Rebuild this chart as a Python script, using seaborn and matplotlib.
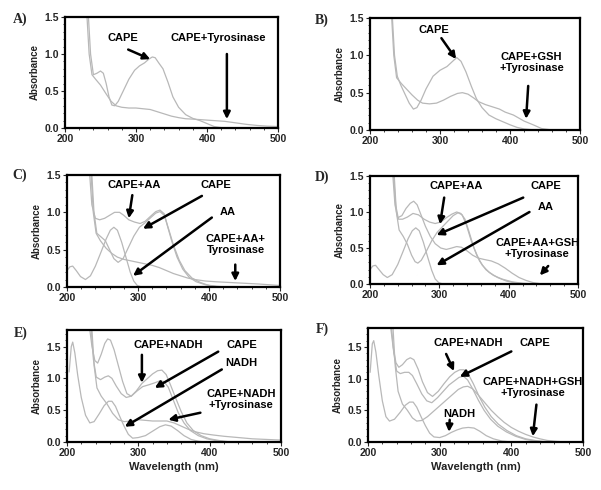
"""UV-vis spectra of CAPE with tyrosinase and reducing agents (six panels)."""

import matplotlib
matplotlib.use("Agg")
import matplotlib.pyplot as plt
from matplotlib.ticker import MultipleLocator
import seaborn as sns

# ---- panel A: CAPE / CAPE+Tyrosinase
A_CAPE_WL = [233, 236, 240, 245, 250, 254, 258, 262, 266, 270, 275, 282, 290, 298, 305, 312, 318,
             323, 327, 332, 338, 345, 352, 360, 370, 380, 390, 400, 410, 420, 430]
A_CAPE_ABS = [1.5, 1.0, 0.72, 0.74, 0.77, 0.74, 0.6, 0.42, 0.31, 0.3, 0.36, 0.5, 0.66, 0.78, 0.84,
              0.88, 0.93, 0.96, 0.95, 0.88, 0.8, 0.62, 0.42, 0.28, 0.18, 0.13, 0.1, 0.06, 0.02, 0.005, 0.0]
A_TYR_WL = [231, 234, 238, 243, 250, 258, 265, 272, 280, 290, 300, 310, 320, 330, 340, 350, 360,
            370, 380, 395, 410, 425, 440, 455, 470, 485, 500]
A_TYR_ABS = [1.5, 1.0, 0.72, 0.66, 0.58, 0.46, 0.36, 0.3, 0.28, 0.27, 0.27, 0.26, 0.25, 0.22, 0.19,
             0.16, 0.14, 0.125, 0.12, 0.11, 0.1, 0.09, 0.07, 0.05, 0.035, 0.025, 0.02]

# ---- panel B: CAPE / CAPE+GSH+Tyrosinase
B_CAPE_WL = [232, 235, 239, 244, 250, 256, 262, 267, 273, 280, 290, 300, 310, 318, 324, 330, 337,
             345, 352, 360, 370, 380, 390, 400, 410, 420, 430, 440]
B_CAPE_ABS = [1.5, 1.0, 0.72, 0.6, 0.48, 0.36, 0.28, 0.3, 0.4, 0.55, 0.72, 0.8, 0.85, 0.92, 0.97,
              0.92, 0.78, 0.58, 0.42, 0.3, 0.2, 0.15, 0.11, 0.07, 0.035, 0.015, 0.005, 0.0]
B_TYR_WL = [231, 234, 238, 245, 252, 260, 268, 275, 285, 295, 305, 315, 325, 332, 340, 348, 355,
            365, 375, 385, 393, 405, 420, 433, 445, 460]
B_TYR_ABS = [1.5, 1.0, 0.7, 0.62, 0.55, 0.47, 0.4, 0.36, 0.35, 0.36, 0.4, 0.45, 0.49, 0.5, 0.48,
             0.43, 0.38, 0.34, 0.31, 0.28, 0.24, 0.2, 0.12, 0.07, 0.02, 0.0]

# ---- panel C: AA / CAPE / CAPE+AA / CAPE+AA+Tyrosinase
C_AA_WL = [200, 204, 208, 213, 219, 226, 233, 240, 248, 255, 261, 266, 271, 277, 283, 289, 294, 299, 305]
C_AA_ABS = [0.22, 0.27, 0.28, 0.22, 0.14, 0.1, 0.15, 0.28, 0.47, 0.64, 0.76, 0.8, 0.76, 0.6, 0.4,
            0.2, 0.08, 0.02, 0.0]
C_CAPE_AA_WL = [232, 235, 240, 246, 253, 260, 267, 274, 280, 287, 295, 303, 310, 318, 325, 331, 337,
                342, 348, 355, 363, 372, 382, 395, 410, 425]
C_CAPE_AA_ABS = [1.5, 1.1, 0.92, 0.9, 0.92, 0.96, 1.0, 1.0, 0.96, 0.9, 0.87, 0.85, 0.88, 0.95, 1.01,
                 1.03, 0.98, 0.8, 0.6, 0.4, 0.24, 0.13, 0.07, 0.03, 0.01, 0.0]
C_CAPE_WL = [235, 238, 242, 248, 254, 260, 266, 272, 279, 286, 294, 302, 310, 318, 325, 331, 337, 343,
             350, 358, 366, 376, 388, 400, 415]
C_CAPE_ABS = [1.5, 1.0, 0.72, 0.67, 0.62, 0.5, 0.38, 0.33, 0.38, 0.52, 0.68, 0.8, 0.86, 0.93, 0.99,
              1.01, 0.96, 0.78, 0.56, 0.36, 0.22, 0.12, 0.06, 0.02, 0.0]
C_TYR_WL = [234, 237, 241, 247, 255, 263, 271, 280, 290, 300, 310, 320, 330, 340, 350, 360, 370, 380,
            395, 410, 430, 450, 470, 485, 500]
C_TYR_ABS = [1.5, 1.0, 0.72, 0.62, 0.52, 0.45, 0.4, 0.37, 0.35, 0.33, 0.31, 0.29, 0.26, 0.22, 0.18,
             0.15, 0.12, 0.1, 0.08, 0.07, 0.06, 0.05, 0.04, 0.03, 0.02]

# ---- panel D: AA / CAPE / CAPE+AA / CAPE+AA+GSH+Tyrosinase
D_AA_WL = [200, 204, 208, 213, 219, 225, 232, 240, 248, 255, 261, 266, 271, 277, 283, 289, 294, 299, 305]
D_AA_ABS = [0.2, 0.25, 0.26, 0.2, 0.13, 0.09, 0.13, 0.27, 0.46, 0.63, 0.74, 0.78, 0.74, 0.58, 0.38,
            0.19, 0.07, 0.02, 0.0]
D_CAPE_AA_WL = [234, 237, 241, 247, 254, 262, 270, 278, 286, 294, 302, 310, 318, 325, 331, 337, 343,
                350, 358, 367, 378, 390, 405, 420, 435]
D_CAPE_AA_ABS = [1.5, 1.1, 0.9, 0.9, 0.93, 0.98, 0.96, 0.9, 0.86, 0.84, 0.86, 0.92, 0.97, 1.0, 0.98,
                 0.9, 0.72, 0.5, 0.32, 0.2, 0.12, 0.07, 0.03, 0.01, 0.0]
D_CAPE_WL = [235, 238, 242, 248, 254, 260, 265, 269, 274, 281, 289, 297, 305, 313, 320, 327, 333, 339,
             346, 354, 362, 372, 384, 397, 410, 425]
D_CAPE_ABS = [1.5, 1.0, 0.75, 0.66, 0.55, 0.4, 0.31, 0.29, 0.33, 0.45, 0.6, 0.72, 0.8, 0.88, 0.95,
              0.99, 0.96, 0.82, 0.6, 0.4, 0.26, 0.16, 0.09, 0.04, 0.015, 0.0]
D_TYR_WL = [233, 236, 240, 246, 252, 258, 263, 268, 274, 280, 287, 294, 302, 310, 318, 325, 332, 340,
            348, 356, 365, 375, 385, 395, 405, 415, 425, 435, 445, 455]
D_TYR_ABS = [1.5, 1.1, 0.92, 0.95, 1.05, 1.12, 1.15, 1.1, 0.95, 0.8, 0.66, 0.56, 0.5, 0.48, 0.5, 0.52,
             0.51, 0.46, 0.4, 0.36, 0.34, 0.32, 0.28, 0.22, 0.15, 0.09, 0.05, 0.02, 0.005, 0.0]

# ---- panel E: NADH / CAPE / CAPE+NADH / CAPE+NADH+Tyrosinase
E_NADH_WL = [203, 206, 208, 211, 215, 220, 226, 232, 238, 245, 252, 258, 263, 268, 274, 280, 286, 292,
             300, 310, 320, 330, 338, 346, 355, 364, 374, 385, 395]
E_NADH_ABS = [1.1, 1.5, 1.57, 1.4, 1.05, 0.7, 0.42, 0.3, 0.32, 0.44, 0.57, 0.64, 0.64, 0.56, 0.4, 0.25,
              0.12, 0.06, 0.07, 0.1, 0.17, 0.24, 0.27, 0.25, 0.18, 0.1, 0.04, 0.01, 0.0]
E_CAPE_NADH_WL = [232, 235, 239, 243, 248, 253, 257, 261, 266, 272, 278, 284, 290, 297, 305, 313, 320,
                  327, 333, 339, 345, 352, 360, 368, 377, 388, 400, 415, 430]
E_CAPE_NADH_ABS = [1.76, 1.5, 1.28, 1.24, 1.38, 1.55, 1.62, 1.6, 1.45, 1.2, 0.95, 0.76, 0.72, 0.8, 0.92,
                   1.0, 1.07, 1.12, 1.13, 1.06, 0.9, 0.7, 0.48, 0.3, 0.18, 0.1, 0.05, 0.02, 0.0]
E_CAPE_WL = [234, 237, 241, 247, 253, 258, 263, 269, 276, 283, 290, 298, 306, 315, 323, 330, 336, 342,
             349, 356, 364, 373, 384, 396, 410, 425]
E_CAPE_ABS = [1.76, 1.3, 1.02, 0.98, 1.02, 1.04, 1.0, 0.88, 0.76, 0.7, 0.72, 0.8, 0.87, 0.9, 0.93,
              0.96, 0.95, 0.86, 0.66, 0.46, 0.3, 0.18, 0.1, 0.05, 0.02, 0.0]
E_TYR_WL = [235, 238, 242, 248, 256, 264, 272, 280, 290, 300, 310, 320, 330, 340, 350, 360, 370, 380,
            392, 405, 420, 440, 460, 480, 500]
E_TYR_ABS = [1.76, 1.2, 0.85, 0.72, 0.6, 0.45, 0.35, 0.32, 0.33, 0.35, 0.34, 0.33, 0.33, 0.33, 0.3,
             0.25, 0.2, 0.16, 0.13, 0.11, 0.09, 0.07, 0.05, 0.04, 0.03]

# ---- panel F: NADH / CAPE / CAPE+NADH / CAPE+NADH+GSH+Tyrosinase
F_NADH_WL = [203, 206, 208, 211, 215, 220, 225, 230, 237, 245, 252, 258, 263, 268, 274, 280, 286, 292,
             300, 308, 316, 324, 332, 340, 348, 356, 365, 375, 387, 400]
F_NADH_ABS = [1.1, 1.55, 1.6, 1.42, 1.05, 0.65, 0.4, 0.33, 0.36, 0.47, 0.58, 0.63, 0.63, 0.55, 0.4,
              0.26, 0.14, 0.08, 0.07, 0.1, 0.15, 0.19, 0.22, 0.23, 0.22, 0.17, 0.1, 0.05, 0.015, 0.0]
F_CAPE_NADH_WL = [232, 235, 239, 243, 248, 254, 259, 264, 270, 276, 283, 290, 298, 306, 314, 321, 328,
                  334, 340, 347, 355, 363, 372, 382, 394, 407, 420, 435, 450]
F_CAPE_NADH_ABS = [1.78, 1.5, 1.25, 1.18, 1.22, 1.3, 1.33, 1.3, 1.15, 0.95, 0.78, 0.72, 0.8, 0.92, 1.03,
                   1.1, 1.14, 1.14, 1.07, 0.92, 0.72, 0.55, 0.4, 0.28, 0.18, 0.1, 0.05, 0.02, 0.0]
F_CAPE_WL = [233, 236, 240, 245, 251, 257, 262, 268, 275, 282, 289, 297, 305, 313, 320, 327, 333, 339,
             346, 354, 362, 371, 381, 393, 406, 420, 435, 450]
F_CAPE_ABS = [1.78, 1.4, 1.12, 1.08, 1.1, 1.1, 1.05, 0.92, 0.76, 0.65, 0.62, 0.7, 0.8, 0.9, 0.96, 1.02,
              1.04, 0.98, 0.84, 0.66, 0.5, 0.36, 0.25, 0.16, 0.09, 0.04, 0.015, 0.0]
F_TYR_WL = [235, 238, 242, 248, 255, 262, 268, 275, 283, 291, 300, 309, 318, 326, 333, 339, 346, 354,
            363, 372, 381, 390, 400, 410, 420, 430, 440, 450, 462, 475]
F_TYR_ABS = [1.78, 1.2, 0.8, 0.6, 0.5, 0.38, 0.33, 0.34, 0.4, 0.48, 0.57, 0.66, 0.75, 0.83, 0.87, 0.88,
             0.84, 0.74, 0.62, 0.5, 0.4, 0.31, 0.23, 0.17, 0.12, 0.08, 0.05, 0.025, 0.01, 0.0]

X_TICKS = [200, 300, 400, 500]
Y_TICKS = [0.0, 0.5, 1.0, 1.5]

W, H = 601, 490
LINE_COLOR = "#b8b8b8"

sns.set_style("white")
plt.rcParams["font.family"] = ["Liberation Sans", "DejaVu Sans"]
plt.rcParams["font.weight"] = "bold"


def px_rect(left, top, right, bottom):
    """Axes rectangle from pixel edges of the reference picture."""
    return [left / W, 1 - bottom / H, (right - left) / W, (bottom - top) / H]


# name, axes rect, ylim top, curves, labels (text, x, y), arrows ((x0, y0) -> (x1, y1)), letter pos
PANELS = [
    ("A)", px_rect(65, 17, 278, 128), 1.5,
     [(A_CAPE_WL, A_CAPE_ABS), (A_TYR_WL, A_TYR_ABS)],
     [("CAPE", 281, 1.22), ("CAPE+Tyrosinase", 416, 1.21)],
     [((289, 1.06), (320, 0.93)), ((428, 1.0), (428, 0.12))],
     (20, 19), False),
    ("B)", px_rect(370, 18, 580, 130), 1.5,
     [(B_CAPE_WL, B_CAPE_ABS), (B_TYR_WL, B_TYR_ABS)],
     [("CAPE", 291, 1.34), ("CAPE+GSH\n+Tyrosinase", 431, 0.9)],
     [((302, 1.23), (323, 0.95)), ((426, 0.59), (423, 0.15))],
     (322, 20), False),
    ("C)", px_rect(67, 175, 280, 287), 1.5,
     [(C_AA_WL, C_AA_ABS), (C_CAPE_AA_WL, C_CAPE_AA_ABS), (C_CAPE_WL, C_CAPE_ABS), (C_TYR_WL, C_TYR_ABS)],
     [("CAPE+AA", 294, 1.37), ("CAPE", 409, 1.36), ("AA", 427, 1.01), ("CAPE+AA+\nTyrosinase", 438, 0.57)],
     [((292, 1.23), (287, 0.92)), ((390, 1.22), (307, 0.78)), ((404, 0.93), (293, 0.15)),
      ((437, 0.30), (437, 0.08))],
     (20, 175), False),
    ("D)", px_rect(370, 176, 578, 284), 1.5,
     [(D_AA_WL, D_AA_ABS), (D_CAPE_AA_WL, D_CAPE_AA_ABS), (D_CAPE_WL, D_CAPE_ABS), (D_TYR_WL, D_TYR_ABS)],
     [("CAPE+AA", 325, 1.36), ("CAPE", 454, 1.36), ("AA", 454, 1.07), ("CAPE+AA+GSH\n+Tyrosinase", 441, 0.49)],
     [((307, 1.2), (301, 0.83)), ((421, 1.2), (296, 0.68)), ((430, 1.0), (296, 0.26)),
      ((457, 0.25), (445, 0.12))],
     (322, 177), False),
    ("E)", px_rect(67, 330, 281, 442), 1.76,
     [(E_NADH_WL, E_NADH_ABS), (E_CAPE_NADH_WL, E_CAPE_NADH_ABS), (E_CAPE_WL, E_CAPE_ABS), (E_TYR_WL, E_TYR_ABS)],
     [("CAPE+NADH", 342, 1.53), ("CAPE", 445, 1.53), ("NADH", 445, 1.24), ("CAPE+NADH\n+Tyrosinase", 444, 0.67)],
     [((305, 1.37), (305, 0.93)), ((412, 1.42), (323, 0.85)), ((417, 1.14), (281, 0.24)),
      ((387, 0.46), (342, 0.35))],
     (21, 333), True),
    ("F)", px_rect(368, 328, 583, 442), 1.8,
     [(F_NADH_WL, F_NADH_ABS), (F_CAPE_NADH_WL, F_CAPE_NADH_ABS), (F_CAPE_WL, F_CAPE_ABS), (F_TYR_WL, F_TYR_ABS)],
     [("CAPE+NADH", 340, 1.57), ("CAPE", 433, 1.57), ("CAPE+NADH+GSH\n+Tyrosinase", 430, 0.86),
      ("NADH", 327, 0.45)],
     [((309, 1.39), (320, 1.12)), ((400, 1.43), (328, 1.03)), ((435, 0.59), (430, 0.09)),
      ((314, 0.35), (313, 0.16))],
     (322, 329), True),
]

fig = plt.figure(figsize=(W / 100, H / 100), dpi=100)

for letter, rect, ytop, curves, labels, arrows, letter_pos, show_xlabel in PANELS:
    ax = fig.add_axes(rect)
    for wl, ab in curves:
        sns.lineplot(x=wl, y=ab, ax=ax, color=LINE_COLOR, lw=0.9, legend=False, sort=False)

    ax.set_xlim(200, 500)
    ax.set_ylim(0, ytop)
    ax.set_xticks(X_TICKS)
    ax.set_yticks(Y_TICKS)
    ax.set_yticklabels([f"{v:.1f}" for v in Y_TICKS])
    ax.xaxis.set_minor_locator(MultipleLocator(20))
    ax.yaxis.set_minor_locator(MultipleLocator(0.1))
    ax.tick_params(which="major", direction="out", length=3, width=0.8, labelsize=7.5, pad=1.5,
                   left=True, bottom=True)
    ax.tick_params(which="minor", direction="out", length=1.5, width=0.6, left=True, bottom=True)
    for tl in ax.get_xticklabels() + ax.get_yticklabels():
        tl.set_fontweight("bold")
    for sp in ax.spines.values():
        sp.set_color("black")
        sp.set_linewidth(1.6)

    ax.set_ylabel("Absorbance", fontsize=7, fontweight="bold", labelpad=3, color="#222222")
    if show_xlabel:
        ax.set_xlabel("Wavelength (nm)", fontsize=8, fontweight="bold", labelpad=3, color="#222222")
    else:
        ax.set_xlabel("")

    for text, tx, ty in labels:
        ax.text(tx, ty, text, ha="center", va="center", fontsize=8, fontweight="bold",
                linespacing=1.15, color="black")
    for (x0, y0), (x1, y1) in arrows:
        ax.annotate("", xy=(x1, y1), xytext=(x0, y0),
                    arrowprops=dict(arrowstyle="-|>", color="black", lw=1.8,
                                    mutation_scale=10, shrinkA=0, shrinkB=0))

    fig.text(letter_pos[0] / W, 1 - letter_pos[1] / H, letter, ha="center", va="center",
             fontsize=10, fontweight="bold", family=["Liberation Serif", "DejaVu Serif"])

fig.savefig("out.png", dpi=100, facecolor="white")
